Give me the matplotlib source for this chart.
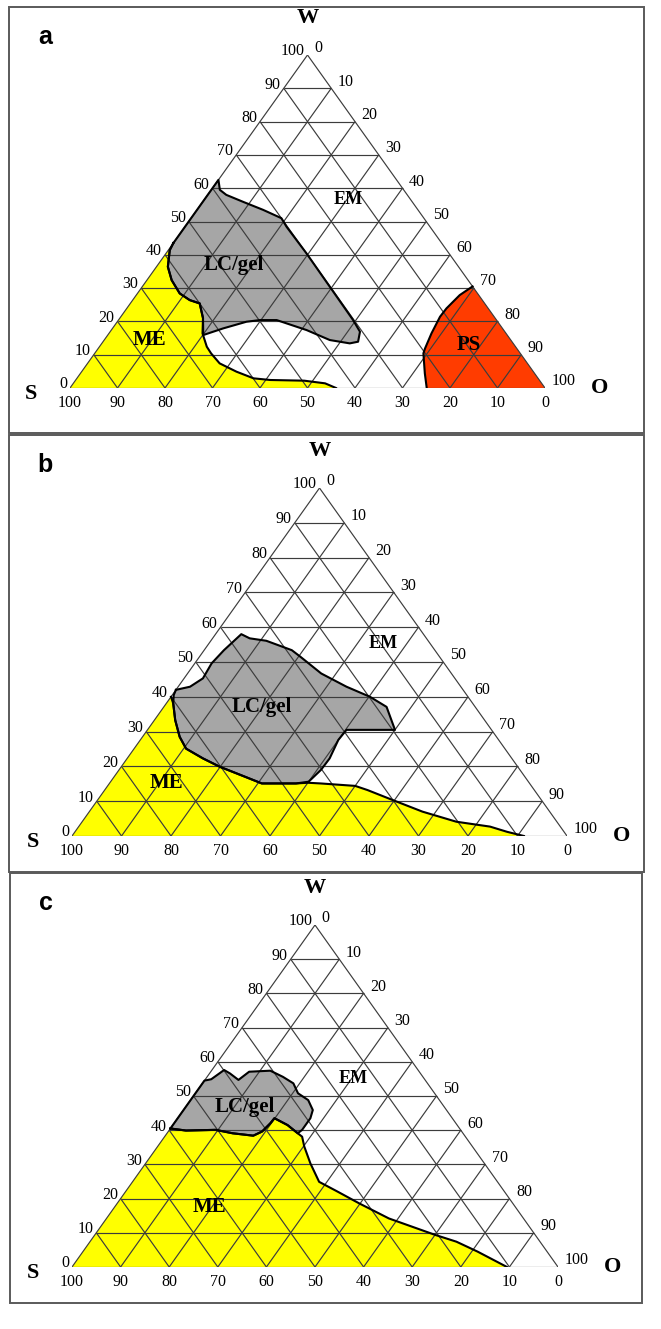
import numpy as np
import matplotlib
matplotlib.use('Agg')
import matplotlib.pyplot as plt
from matplotlib.patches import Polygon, Rectangle

# ---- data: boundaries, as (W %, O %) ; S = 100 - W - O
ticks = list(range(0, 101, 10))
panel_letters = ['a', 'b', 'c']

# panel a
me_a_w = [43.5, 41.4, 36.4, 32.4, 28.4, 26.4, 25.4, 21.0, 16.4, 12.4, 10.4, 7.4, 4.9, 2.9, 2.4, 2.2, 1.4, 0.0]
me_a_o = [0.0, 0.3, 2.4, 5.2, 8.9, 12.0, 14.6, 17.5, 19.7, 22.6, 24.5, 27.8, 32.6, 37.2, 41.0, 48.2, 53.0, 56.0]
lc_a_w = [43.5, 62.5, 59.5, 58.0, 55.9, 53.5, 51.0, 48.4, 40.5, 30.4, 20.4, 16.9, 13.9, 13.4, 14.4, 17.4,
          20.4, 20.4, 19.9, 17.9, 15.9, 21.0, 25.4, 26.4, 28.4, 32.4, 36.4, 41.4]
lc_a_o = [0.0, 0.0, 1.8, 3.9, 8.5, 13.9, 19.0, 21.4, 29.5, 39.5, 49.4, 52.6, 53.7, 52.2, 47.5, 41.1,
          33.3, 29.8, 27.2, 23.3, 20.1, 17.5, 14.6, 12.0, 8.9, 5.2, 2.4, 0.3]
ps_a_w = [30.5, 27.9, 23.9, 21.4, 16.4, 11.9, 10.4, 4.4, 0.0]
ps_a_o = [69.5, 68.1, 67.3, 67.2, 67.9, 68.8, 69.2, 72.5, 75.1]

# panel b
lc_b_w = [42.0, 42.9, 45.3, 49.6, 53.4, 58.0, 56.8, 56.1, 53.4, 51.5, 46.7, 42.9, 40.0, 37.1, 30.5, 30.5,
          27.6, 22.3, 19.0, 15.6, 15.1, 15.1, 17.0, 19.9, 22.3, 25.1, 28.5, 33.3, 38.1, 40.5]
lc_b_o = [0.0, 2.4, 3.8, 3.4, 4.0, 5.2, 7.5, 11.2, 17.7, 20.4, 27.0, 34.0, 40.2, 45.0, 50.0, 40.2,
          40.0, 40.9, 40.8, 40.0, 37.7, 30.8, 26.5, 19.9, 15.3, 10.5, 7.5, 4.2, 1.4, 0.3]
me_b_w = [40.0, 38.1, 33.3, 28.5, 25.1, 22.3, 19.9, 17.0, 15.1, 15.1, 15.3, 15.1, 14.4, 13.2, 10.3, 7.0,
          4.1, 2.7, 1.2, 0.0]
me_b_o = [0.0, 1.4, 4.2, 7.5, 10.5, 15.3, 19.9, 26.5, 30.8, 37.7, 40.0, 42.7, 50.0, 53.1, 59.7, 67.3,
          75.6, 83.1, 87.3, 91.3]

# panel c
lc_c_w = [40.5, 54.5, 54.9, 57.6, 56.6, 54.7, 57.1, 57.4, 55.6, 53.7, 50.8, 48.8, 45.9, 43.5, 40.1,
          39.1, 41.5, 43.5, 42.0, 39.6, 38.4, 39.1, 40.1, 39.9]
lc_c_o = [0.0, 0.0, 1.2, 2.5, 4.2, 6.9, 7.9, 12.1, 15.6, 18.7, 21.1, 24.2, 26.6, 27.3, 27.3,
          26.9, 23.6, 19.9, 19.8, 19.3, 18.1, 13.5, 9.5, 3.5]
me_c_w = [40.5, 39.9, 40.1, 39.1, 38.4, 39.6, 42.0, 43.5, 41.5, 39.1, 38.1, 35.2, 30.3, 24.9, 22.0,
          18.6, 14.2, 9.4, 7.4, 4.5, 0.0]
me_c_o = [0.0, 3.5, 9.5, 13.5, 18.1, 19.3, 19.8, 19.9, 23.6, 26.9, 28.3, 30.2, 33.9, 38.4, 43.7,
          49.8, 58.1, 70.0, 75.4, 81.2, 89.5]

# region label positions (W, O)
labels_a = {'EM': (56.5, 30.4), 'LC/gel': (36.9, 16.1), 'ME': (14.4, 9.6), 'PS': (12.9, 77.5)}
labels_b = {'EM': (55.4, 35.1), 'LC/gel': (37.2, 19.8), 'ME': (15.1, 11.6)}
labels_c = {'EM': (55.2, 30.2), 'LC/gel': (46.9, 12.1), 'ME': (17.6, 19.4)}

YELLOW = '#ffff00'
GREY = '#a6a6a6'
RED = '#ff3c00'
GRID = '#3c3c3c'
SERIF = 'Liberation Serif'

W_PX, H_PX = 661, 1329
fig = plt.figure(figsize=(W_PX / 100, H_PX / 100), dpi=100)


def tern(w, o):
    w = np.asarray(w, float)
    o = np.asarray(o, float)
    return o + w / 2.0, w


def pts(w, o):
    x, y = tern(w, o)
    return np.column_stack([x, y])


def draw_panel(letter, box, tri, regions, labels):
    # panel frame
    x0, y0, x1, y1 = box
    fig.add_artist(Rectangle((x0 / W_PX, 1 - y1 / H_PX), (x1 - x0) / W_PX, (y1 - y0) / H_PX,
                             transform=fig.transFigure, fill=False, ec='#5a5a5a', lw=1.4))
    fig.text((x0 + 36) / W_PX, 1 - (y0 + 30) / H_PX, letter, family='Liberation Sans',
             weight='bold', fontsize=18, ha='center', va='center')

    lx, rx, ty, by = tri
    ax = fig.add_axes([lx / W_PX, 1 - by / H_PX, (rx - lx) / W_PX, (by - ty) / H_PX])
    ax.set_xlim(0, 100)
    ax.set_ylim(0, 100)
    ax.axis('off')

    # filled regions: (w, o, colour, closing corners, closed outline)
    for w, o, col, corners, closed in regions:
        p = pts(w, o)
        poly = np.vstack([p, pts(*zip(*corners))]) if corners else p
        ax.add_patch(Polygon(poly, closed=True, fc=col, ec='none', zorder=1))

    # grid
    for t in ticks:
        for (wa, oa), (wb, ob) in [((t, 0), (t, 100 - t)),
                                   ((0, t), (100 - t, t)),
                                   ((0, 100 - t), (100 - t, 0))]:
            xs, ys = tern([wa, wb], [oa, ob])
            ax.plot(xs, ys, color=GRID, lw=0.85, zorder=2, solid_capstyle='butt')

    # boundaries
    for w, o, col, corners, closed in regions:
        p = pts(w, o)
        if closed:
            p = np.vstack([p, p[:1]])
        ax.plot(p[:, 0], p[:, 1], color='black', lw=1.5, zorder=3)

    # tick labels
    for t in ticks:
        x, y = tern(t, 0)
        ax.annotate(str(t), (x, y), xytext=(-2.0, 2.6), textcoords='offset points',
                    ha='right', va='center', fontsize=11.5, family=SERIF)
        x, y = tern(100 - t, t)
        ax.annotate(str(t), (x, y), xytext=(4.8, 4.8), textcoords='offset points',
                    ha='left', va='center', fontsize=11.5, family=SERIF)
        x, y = tern(0, 100 - t)
        ax.annotate(str(t), (x, y), xytext=(0, -10.5), textcoords='offset points',
                    ha='center', va='center', fontsize=11.5, family=SERIF)

    # corner names
    ax.annotate('W', tern(100, 0), xytext=(0, 26.5), textcoords='offset points',
                ha='center', va='center', fontsize=16, weight='bold', family=SERIF)
    ax.annotate('S', tern(0, 0), xytext=(-28, -4.5), textcoords='offset points',
                ha='center', va='center', fontsize=16, weight='bold', family=SERIF)
    ax.annotate('O', tern(0, 100), xytext=(39.5, 0), textcoords='offset points',
                ha='center', va='center', fontsize=16, weight='bold', family=SERIF)

    for name, (w, o) in labels.items():
        x, y = tern(w, o)
        ax.text(x, y, name, ha='center', va='center', fontsize=13 if name == 'EM' else 15,
                weight='bold', family=SERIF, zorder=4)


S_CORNER = (0, 0)
O_CORNER = (0, 100)

draw_panel('a', (9, 7, 644, 433), (70, 545, 55, 388),
           [(me_a_w, me_a_o, YELLOW, [S_CORNER], False),
            (ps_a_w, ps_a_o, RED, [O_CORNER], False),
            (lc_a_w, lc_a_o, GREY, [], True)],
           labels_a)
draw_panel('b', (9, 435, 644, 872), (72, 567, 488, 836),
           [(me_b_w, me_b_o, YELLOW, [S_CORNER], False),
            (lc_b_w, lc_b_o, GREY, [], True)],
           labels_b)
draw_panel('c', (10, 873, 642, 1303), (72, 558, 925, 1267),
           [(lc_c_w, lc_c_o, GREY, [], True),
            (me_c_w, me_c_o, YELLOW, [S_CORNER], False)],
           labels_c)

fig.savefig('out.png', dpi=100)
